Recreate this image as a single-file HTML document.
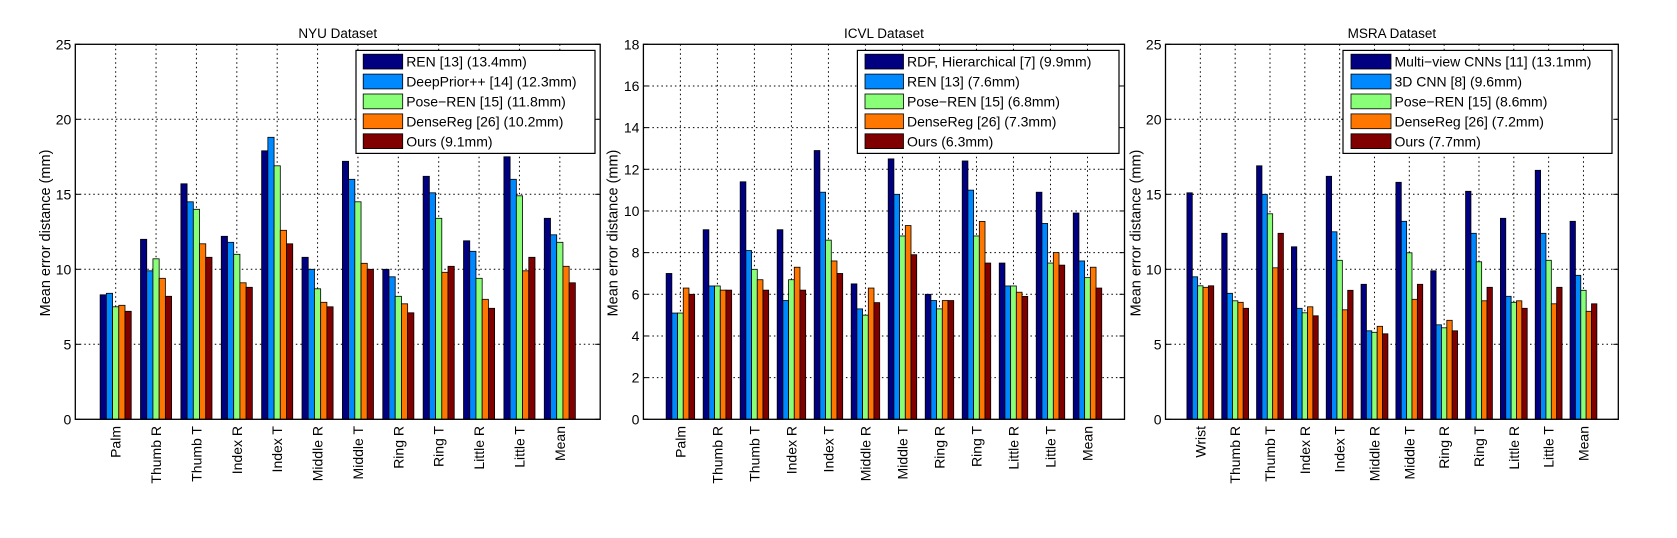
<!DOCTYPE html>
<html><head><meta charset="utf-8">
<style>
html,body{margin:0;padding:0;background:#fff;}
svg{display:block;font-family:"Liberation Sans",Arial,sans-serif;}
</style></head>
<body>
<svg id="fig" width="1677" height="538" viewBox="0 0 1677 538" xmlns="http://www.w3.org/2000/svg"></svg>
<script>
const colors = ['#000080','#0088ff','#88ff77','#ff7700','#800000'];

const nyuCategories = ['Palm','Thumb R','Thumb T','Index R','Index T','Middle R','Middle T','Ring R','Ring T','Little R','Little T','Mean'];
const nyuSeriesNames = ['REN [13] (13.4mm)','DeepPrior++ [14] (12.3mm)','Pose\u2212REN [15] (11.8mm)','DenseReg [26] (10.2mm)','Ours (9.1mm)'];
const nyuRen = [8.3,12.0,15.7,12.2,17.9,10.8,17.2,10.0,16.2,11.9,17.5,13.4];
const nyuDeepPrior = [8.4,9.9,14.5,11.8,18.8,10.0,16.0,9.5,15.1,11.2,16.0,12.3];
const nyuPoseRen = [7.5,10.7,14.0,11.0,16.9,8.7,14.5,8.2,13.4,9.4,14.9,11.8];
const nyuDenseReg = [7.6,9.4,11.7,9.1,12.6,7.8,10.4,7.7,9.8,8.0,9.9,10.2];
const nyuOurs = [7.2,8.2,10.8,8.8,11.7,7.5,10.0,7.1,10.2,7.4,10.8,9.1];
const nyuTicks = [0,5,10,15,20,25];

const icvlCategories = ['Palm','Thumb R','Thumb T','Index R','Index T','Middle R','Middle T','Ring R','Ring T','Little R','Little T','Mean'];
const icvlSeriesNames = ['RDF, Hierarchical [7] (9.9mm)','REN [13] (7.6mm)','Pose\u2212REN [15] (6.8mm)','DenseReg [26] (7.3mm)','Ours (6.3mm)'];
const icvlRdf = [7.0,9.1,11.4,9.1,12.9,6.5,12.5,6.0,12.4,7.5,10.9,9.9];
const icvlRen = [5.1,6.4,8.1,5.7,10.9,5.3,10.8,5.7,11.0,6.4,9.4,7.6];
const icvlPoseRen = [5.1,6.4,7.2,6.7,8.6,5.0,8.8,5.3,8.8,6.4,7.5,6.8];
const icvlDenseReg = [6.3,6.2,6.7,7.3,7.6,6.3,9.3,5.7,9.5,6.1,8.0,7.3];
const icvlOurs = [6.0,6.2,6.2,6.2,7.0,5.6,7.9,5.7,7.5,5.9,7.4,6.3];
const icvlTicks = [0,2,4,6,8,10,12,14,16,18];

const msraCategories = ['Wrist','Thumb R','Thumb T','Index R','Index T','Middle R','Middle T','Ring R','Ring T','Little R','Little T','Mean'];
const msraSeriesNames = ['Multi\u2212view CNNs [11] (13.1mm)','3D CNN [8] (9.6mm)','Pose\u2212REN [15] (8.6mm)','DenseReg [26] (7.2mm)','Ours (7.7mm)'];
const msraMultiView = [15.1,12.4,16.9,11.5,16.2,9.0,15.8,9.9,15.2,13.4,16.6,13.2];
const msra3dCnn = [9.5,8.4,15.0,7.4,12.5,5.9,13.2,6.3,12.4,8.2,12.4,9.6];
const msraPoseRen = [8.9,7.9,13.7,7.1,10.6,5.8,11.1,6.1,10.5,7.8,10.6,8.6];
const msraDenseReg = [8.8,7.8,10.1,7.5,7.3,6.2,8.0,6.6,7.9,7.9,7.7,7.2];
const msraOurs = [8.9,7.4,12.4,6.9,8.6,5.7,9.0,5.9,8.8,7.4,8.8,7.7];
const msraTicks = [0,5,10,15,20,25];

const NS = 'http://www.w3.org/2000/svg';
const svg = document.getElementById('fig');
function mk(tag, attrs, parent){
  const e = document.createElementNS(NS, tag);
  for (const k in attrs) e.setAttribute(k, attrs[k]);
  (parent||svg).appendChild(e);
  return e;
}

function drawChart(cfg){
  const g = mk('g', {});
  
  
  const L = cfg.left, R = cfg.right, T = 44.3, B = 419.3;
  const ymax = cfg.ticks[cfg.ticks.length-1];
  const yS = v => B - (v/ymax)*(B-T);
  const n = cfg.categories.length;
  const xS = i => L + (i+1)*(R-L)/(n+1);
  const step = (R-L)/(n+1);
  const barW = step*0.77/5;

  cfg.ticks.forEach(t => {
    if (t===0 || t===ymax) return;
    const gl = mk('line', {x1:L, x2:R, y1:yS(t), y2:yS(t), stroke:'#000', 'stroke-width':1, 'stroke-dasharray':'1.5,3'}, g);
    
    
  });
  cfg.categories.forEach((c,i) => {
    const gl = mk('line', {x1:xS(i), x2:xS(i), y1:T, y2:B, stroke:'#000', 'stroke-width':1, 'stroke-dasharray':'1.5,3'}, g);
    
    
  });

  cfg.series.forEach((vals, s) => {
    vals.forEach((v, i) => {
      const x = xS(i) - 2.5*barW + s*barW;
      const r = mk('rect', {x:x, y:yS(v), width:barW, height:B-yS(v), fill:colors[s], stroke:'#000', 'stroke-width':0.8}, g);
      
      
    });
  });

  const box = mk('rect', {x:L, y:T, width:R-L, height:B-T, fill:'none', stroke:'#000', 'stroke-width':1.3}, g);
  
  

  cfg.ticks.forEach(t => {
    mk('line', {x1:L, x2:L+5, y1:yS(t), y2:yS(t), stroke:'#000'}, g);
    mk('line', {x1:R, x2:R-5, y1:yS(t), y2:yS(t), stroke:'#000'}, g);
    const tl = mk('text', {x:L-4, y:yS(t)+5, 'text-anchor':'end', 'font-size':14}, g);
    tl.textContent = t;
    
    
  });

  cfg.categories.forEach((c,i) => {
    const tx = xS(i)+5, ty = 426;
    const xl = mk('text', {x:tx, y:ty, 'text-anchor':'end', 'font-size':14, transform:'rotate(-90 '+tx+' '+ty+')'}, g);
    xl.textContent = c;
    
    
  });

  const title = mk('text', {x:(L+R)/2, y:38, 'text-anchor':'middle', 'font-size':13.5}, g);
  title.textContent = cfg.title;
  
  

  const yx = cfg.ylabelX, yy = 233;
  const yl = mk('text', {x:yx, y:yy, 'text-anchor':'middle', 'font-size':14.5, transform:'rotate(-90 '+yx+' '+yy+')'}, g);
  yl.textContent = 'Mean error distance (mm)';
  
  

  const lg = mk('g', {}, g);
  
  
  mk('rect', {x:cfg.legL, y:50.4, width:cfg.legR-cfg.legL, height:103, fill:'#fff', stroke:'#000', 'stroke-width':1.2}, lg);
  cfg.names.forEach((nm, s) => {
    const y0 = 54.2 + s*19.9;
    const e = mk('g', {}, lg);
    
    
    mk('rect', {x:cfg.swL, y:y0, width:cfg.swW, height:14.8, fill:colors[s], stroke:'#000', 'stroke-width':0.8}, e);
    const t = mk('text', {x:cfg.swL+cfg.swW+3.5, y:y0+12.5, 'font-size':14}, e);
    t.textContent = nm;
  });
}

drawChart({name:'nyu-chart', title:'NYU Dataset', left:75.3, right:600.2, categories:nyuCategories,
  series:[nyuRen,nyuDeepPrior,nyuPoseRen,nyuDenseReg,nyuOurs], names:nyuSeriesNames, ticks:nyuTicks,
  ylabelX:50, legL:356, legR:595, swL:363.2, swW:39.5});
drawChart({name:'icvl-chart', title:'ICVL Dataset', left:643.4, right:1124.5, categories:icvlCategories,
  series:[icvlRdf,icvlRen,icvlPoseRen,icvlDenseReg,icvlOurs], names:icvlSeriesNames, ticks:icvlTicks,
  ylabelX:617.5, legL:857.4, legR:1119, swL:865, swW:38.5});
drawChart({name:'msra-chart', title:'MSRA Dataset', left:1165.5, right:1618.3, categories:msraCategories,
  series:[msraMultiView,msra3dCnn,msraPoseRen,msraDenseReg,msraOurs], names:msraSeriesNames, ticks:msraTicks,
  ylabelX:1140.5, legL:1343, legR:1612, swL:1351, swW:40});
</script>
</body></html>
